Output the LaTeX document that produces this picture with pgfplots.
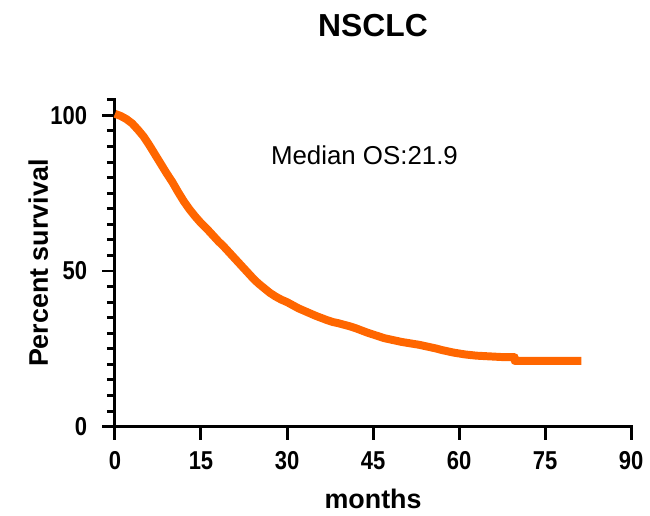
\documentclass[border=0pt]{standalone}
\usepackage{pgfplots}
\pgfplotsset{compat=1.18}
\usepackage{fontspec}
\setmainfont{Liberation Sans}
\newfontfamily\tickfont[FakeStretch=0.85]{Liberation Sans}
\definecolor{kmorange}{RGB}{255,102,0}

\begin{document}
\begin{tikzpicture}
\begin{axis}[
    width=259.5pt, height=164.3pt, scale only axis,
    xmin=0, xmax=90, ymin=0, ymax=105,
    axis lines*=left,
    axis line style={line width=1.5pt, line cap=rect},
    tick align=outside,
    xtick={0,15,...,90},
    ytick={0,50,100},
    minor ytick={5,10,15,20,25,30,35,40,45,55,60,65,70,75,80,85,90,95,105},
    major tick length=6.5pt,
    minor tick length=4pt,
    every tick/.style={black, line width=1.5pt},
    /pgf/number format/assume math mode=true,
    tick label style={font=\tickfont\bfseries\fontsize{13}{14}\selectfont},
    xticklabel style={yshift=-2.5pt},
    yticklabel style={xshift=-4pt},
    title={NSCLC},
    title style={font=\bfseries\fontsize{16}{18}\selectfont, at={(axis description cs:0.5,1)}, anchor=base, yshift=26pt, inner ysep=7pt},
    xlabel={months},
    ylabel={Percent survival},
    xlabel style={font=\bfseries\fontsize{13.5}{15}\selectfont, at={(axis description cs:0.5,0)}, anchor=center, yshift=-36.5pt},
    every axis y label/.style={font=\bfseries\fontsize{13.5}{15}\selectfont, at={(axis description cs:0,0.5)}, xshift=-38.5pt, rotate=90, anchor=center},
    clip=false,
]
% Kaplan-Meier estimate
\addplot[kmorange, line width=4pt, line join=round] coordinates {
    (0,100.5) (1,99.8) (2,98.8) (3,97.4) (4,95.4) (5,93.2) (6,90.4)
    (7,87.4) (8,84.4) (9,81.4) (10,78.6) (11,75.4) (12,72.4)
    (13,69.8) (14,67.5) (15,65.4) (16,63.6) (17,61.6) (18,59.6)
    (19,57.8) (20,55.8) (21,53.8) (22,51.8) (23,49.8) (24,47.8)
    (25,46.0) (26,44.5) (27,43.0) (28,41.8) (29,40.8) (30,40.0)
    (31,39.0) (32,38.0) (33,37.2) (34,36.4) (35,35.6) (36,34.9)
    (37,34.2) (38,33.6) (39,33.2) (40,32.7) (41,32.2) (42,31.6)
    (43,30.9) (44,30.2) (45,29.6) (46,29.0) (47,28.4) (48,28.0)
    (49,27.6) (50,27.2) (51,26.9) (52,26.6) (53,26.3) (54,25.9)
    (55,25.5) (56,25.1) (57,24.6) (58,24.2) (59,23.8) (60,23.5)
    (61,23.2) (62,23.0) (63,22.8) (64,22.7) (65,22.6) (66,22.5)
    (68,22.3) (69.7,22.3) (69.7,21.1) (81.3,21.1)
};
\node[font=\fontsize{13}{15}\selectfont] at (axis cs:43.5,87.2) {Median OS:21.9};
\end{axis}
\path (current bounding box.west) ++(-11pt,0);
\end{tikzpicture}
\end{document}
